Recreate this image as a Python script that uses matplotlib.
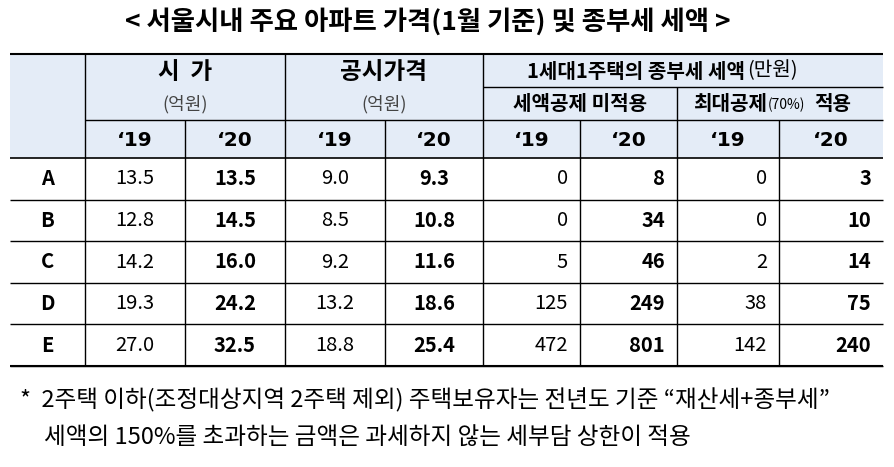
import matplotlib
matplotlib.use("Agg")
import matplotlib.pyplot as plt
from matplotlib.patches import Rectangle

plt.rcParams['font.family'] = ['Noto Sans CJK KR', 'DejaVu Sans']

title = "< 서울시내 주요 아파트 가격(1월 기준) 및 종부세 세액 >"
rows = ["A", "B", "C", "D", "E"]
price19 = ["13.5", "12.8", "14.2", "19.3", "27.0"]
price20 = ["13.5", "14.5", "16.0", "24.2", "32.5"]
official19 = ["9.0", "8.5", "9.2", "13.2", "18.8"]
official20 = ["9.3", "10.8", "11.6", "18.6", "25.4"]
tax19 = ["0", "0", "5", "125", "472"]
tax20 = ["8", "34", "46", "249", "801"]
taxded19 = ["0", "0", "2", "38", "142"]
taxded20 = ["3", "10", "14", "75", "240"]
years = ["‘19", "‘20"]
note1 = "*  2주택 이하(조정대상지역 2주택 제외) 주택보유자는 전년도 기준 “재산세+종부세”"
note2 = "세액의 150%를 초과하는 금액은 과세하지 않는 세부담 상한이 적용"

fig = plt.figure(figsize=(8.95, 4.67), dpi=100)
ax = fig.add_axes([0, 0, 1, 1])
ax.set_xlim(0, 895); ax.set_ylim(467, 0); ax.axis('off')

xs = [10, 85, 185, 285, 385, 483, 580, 677, 779, 883]
y_top, y_h1, y_h2, y_yr = 54, 87, 120, 158
rh = 41.6
ys = [y_yr + i * rh for i in range(6)]
hdr = '#e4ecf7'
ax.add_patch(Rectangle((xs[0], y_top), xs[-1] - xs[0], y_yr - y_top, color=hdr, lw=0))

ax.text(428, 22, title, ha='center', va='center', fontsize=19, fontweight='bold')

def hl(y, x0, x1, lw=1.0):
    ax.plot([x0, x1], [y, y], color='black', lw=lw, solid_capstyle='butt')
def vl(x, y0, y1, lw=1.0):
    ax.plot([x, x], [y0, y1], color='black', lw=lw, solid_capstyle='butt')

hl(y_top, xs[0], xs[-1], 1.5)
hl(y_h1, xs[5], xs[-1])
hl(y_h2, xs[1], xs[-1])
for y in ys:
    hl(y, xs[0], xs[-1], 1.2 if y == ys[0] else 1.0)
hl(ys[-1], xs[0], xs[-1], 1.5)
for x in [xs[1], xs[3], xs[5]]:
    vl(x, y_top, ys[-1])
vl(xs[7], y_h1, ys[-1])
for x in [xs[2], xs[4], xs[6], xs[8]]:
    vl(x, y_h2, ys[-1])

fs = 14.5
ax.text((xs[1] + xs[3]) / 2, 72, "시  가", ha='center', va='center', fontsize=17, fontweight='bold')
ax.text((xs[1] + xs[3]) / 2, 104, "(억원)", ha='center', va='center', fontsize=13, color='#444444')
ax.text((xs[3] + xs[5]) / 2, 72, "공시가격", ha='center', va='center', fontsize=17, fontweight='bold')
ax.text((xs[3] + xs[5]) / 2, 104, "(억원)", ha='center', va='center', fontsize=13, color='#444444')
ax.text(745, 71, "1세대1주택의 종부세 세액", ha='right', va='center', fontsize=fs, fontweight='bold')
ax.text(747, 71, "(만원)", ha='left', va='center', fontsize=fs)
ax.text((xs[5] + xs[7]) / 2, 103, "세액공제 미적용", ha='center', va='center', fontsize=fs, fontweight='bold')
ax.text(767, 103, "최대공제", ha='right', va='center', fontsize=fs, fontweight='bold')
ax.text(768, 105, "(70%)", ha='left', va='center', fontsize=10)
ax.text(814, 103, "적용", ha='left', va='center', fontsize=fs, fontweight='bold')
for i in range(8):
    ax.text((xs[i + 1] + xs[i + 2]) / 2, 140, years[i % 2], ha='center', va='center',
            fontsize=fs, fontweight='bold', family='DejaVu Sans')

cols = [price19, price20, official19, official20, tax19, tax20, taxded19, taxded20]
for r, name in enumerate(rows):
    yc = (ys[r] + ys[r + 1]) / 2
    ax.text((xs[0] + xs[1]) / 2, yc, name, ha='center', va='center', fontsize=fs, fontweight='bold')
    for c, col in enumerate(cols):
        bold = c % 2 == 1
        if c < 4:
            ax.text((xs[c + 1] + xs[c + 2]) / 2, yc, col[r], ha='center', va='center', fontsize=fs,
                    fontweight='bold' if bold else 'normal')
        else:
            ax.text(xs[c + 2] - 12, yc, col[r], ha='right', va='center', fontsize=fs,
                    fontweight='bold' if bold else 'normal')

ax.text(20, 400, note1, ha='left', va='center', fontsize=17)
ax.text(44, 437, note2, ha='left', va='center', fontsize=17)

fig.savefig("out.png", dpi=100)
